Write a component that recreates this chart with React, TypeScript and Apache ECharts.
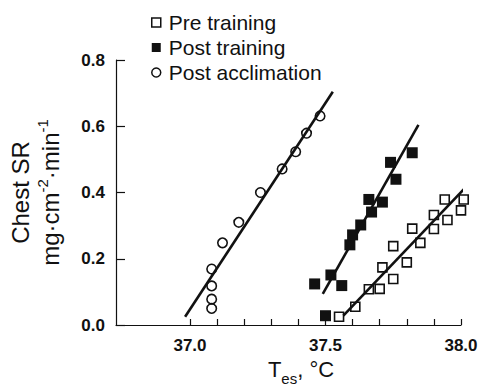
import React, { useEffect, useRef } from "react";
import * as echarts from "echarts";

// Pre training (open squares)
const preX = [37.55, 37.61, 37.66, 37.70, 37.71, 37.75, 37.80, 37.75, 37.85, 37.82, 37.90, 37.90, 37.95, 37.94, 38.00, 38.01];
const preY = [0.025, 0.055, 0.108, 0.109, 0.174, 0.139, 0.189, 0.238, 0.248, 0.291, 0.290, 0.332, 0.317, 0.379, 0.346, 0.379];

// Post training (filled squares)
const postX = [37.50, 37.46, 37.52, 37.56, 37.59, 37.60, 37.63, 37.67, 37.66, 37.71, 37.74, 37.76, 37.82];
const postY = [0.028, 0.124, 0.151, 0.119, 0.242, 0.272, 0.302, 0.341, 0.379, 0.371, 0.491, 0.440, 0.520];

// Post acclimation (open circles)
const accX = [37.08, 37.08, 37.08, 37.08, 37.12, 37.18, 37.26, 37.34, 37.39, 37.43, 37.48];
const accY = [0.050, 0.078, 0.118, 0.169, 0.248, 0.310, 0.400, 0.471, 0.523, 0.579, 0.631];

// Regression line end points
const preFitX = [37.566, 38.10];
const preFitY = [0.028, 0.487];
const postFitX = [37.49, 37.843];
const postFitY = [0.094, 0.604];
const accFitX = [36.982, 37.527];
const accFitY = [0.025, 0.704];

// Axis ticks / labels
const xTickValues = [37.0, 37.1, 37.2, 37.3, 37.4, 37.5, 37.6, 37.7, 37.8, 37.9, 38.0];
const xLabelValues = [37.0, 37.5, 38.0];

const legendNames = ["Pre training", "Post training", "Post acclimation"];

const FONT = "'Liberation Sans', Arial, Helvetica, sans-serif";
const INK = "#111";

function zip(xs: number[], ys: number[]) {
  return xs.map((x, i) => [x, ys[i]]);
}

export default function App() {
  const ref = useRef<HTMLDivElement>(null);

  useEffect(() => {
    if (!ref.current) return;
    const chart = echarts.init(ref.current, null, { renderer: "svg" });
    const fitLine = (name: string, xs: number[], ys: number[]) => ({
      type: "line",
      name,
      data: zip(xs, ys),
      symbol: "none",
      showSymbol: false,
      clip: false,
      silent: true,
      z: 5,
      lineStyle: { color: INK, width: 2.6 },
    });
    chart.setOption({
      animation: false,
      backgroundColor: "#fff",
      textStyle: { fontFamily: FONT },
      grid: { left: 116, right: 26, top: 60, bottom: 66, containLabel: false },
      legend: {
        orient: "vertical",
        left: 146,
        top: 7,
        itemWidth: 9,
        itemHeight: 9,
        itemGap: 4,
        selectedMode: false,
        textStyle: { fontSize: 21, color: INK, fontFamily: FONT, padding: [0, 0, 0, 3] },
        data: [
          { name: legendNames[0], icon: "rect", itemStyle: { color: "#fff", borderColor: INK, borderWidth: 1.5, opacity: 1 } },
          { name: legendNames[1], icon: "rect", itemStyle: { color: INK, borderColor: INK, borderWidth: 0, opacity: 1 } },
          { name: legendNames[2], icon: "circle", itemStyle: { color: "#fff", borderColor: INK, borderWidth: 1.5, opacity: 1 } },
        ],
      },
      xAxis: {
        type: "value",
        min: 36.727,
        max: 38.0,
        name: "{t|T}{s|es}{t|, °C}",
        nameLocation: "middle",
        nameGap: 25,
        nameTextStyle: {
          padding: [0, 0, 0, 25],
          rich: {
            t: { fontSize: 22, lineHeight: 32, color: INK, fontFamily: FONT },
            s: { fontSize: 15, verticalAlign: "bottom", color: INK, fontFamily: FONT },
          },
        },
        axisLine: { show: true, lineStyle: { color: INK, width: 1.2 } },
        axisTick: { show: true, inside: true, length: 6, customValues: xTickValues, lineStyle: { color: INK, width: 1.2 } },
        axisLabel: {
          customValues: xLabelValues,
          formatter: (v: number) => v.toFixed(1),
          fontWeight: "bold",
          fontSize: 17,
          color: INK,
          margin: 12,
          fontFamily: FONT,
        },
        splitLine: { show: false },
      },
      yAxis: {
        type: "value",
        min: 0,
        max: 0.8,
        interval: 0.2,
        name: "{a|Chest SR}\n{a|mg·cm}{s|-2}{a|·min}{s|-1}",
        nameLocation: "middle",
        nameRotate: 90,
        nameGap: 51,
        nameTextStyle: {
          rich: {
            a: { fontSize: 24, lineHeight: 30, color: INK, fontFamily: FONT },
            s: { fontSize: 15, verticalAlign: "top", color: INK, fontFamily: FONT },
          },
        },
        axisLine: { show: true, lineStyle: { color: INK, width: 1.2 } },
        axisTick: { show: true, inside: true, length: 9, lineStyle: { color: INK, width: 1.2 } },
        axisLabel: {
          formatter: (v: number) => v.toFixed(1),
          fontWeight: "bold",
          fontSize: 17,
          color: INK,
          margin: 11,
          fontFamily: FONT,
        },
        splitLine: { show: false },
      },
      series: [
        {
          type: "scatter",
          name: legendNames[0],
          data: zip(preX, preY),
          symbol: "rect",
          symbolSize: 9,
          clip: false,
          itemStyle: { color: "rgba(255,255,255,0)", borderColor: INK, borderWidth: 1.6, opacity: 1 },
        },
        {
          type: "scatter",
          name: legendNames[1],
          data: zip(postX, postY),
          symbol: "rect",
          symbolSize: 11,
          clip: false,
          itemStyle: { color: INK, opacity: 1 },
        },
        {
          type: "scatter",
          name: legendNames[2],
          data: zip(accX, accY),
          symbol: "circle",
          symbolSize: 9.5,
          clip: false,
          itemStyle: { color: "rgba(255,255,255,0)", borderColor: INK, borderWidth: 1.6, opacity: 1 },
        },
        fitLine("fitPre", preFitX, preFitY),
        fitLine("fitPost", postFitX, postFitY),
        fitLine("fitAcc", accFitX, accFitY),
      ],
    });
    return () => chart.dispose();
  }, []);

  return (
    <div
      ref={ref}
      style={{ position: "fixed", left: 0, top: 0, width: 487, height: 391, background: "#fff" }}
    />
  );
}
